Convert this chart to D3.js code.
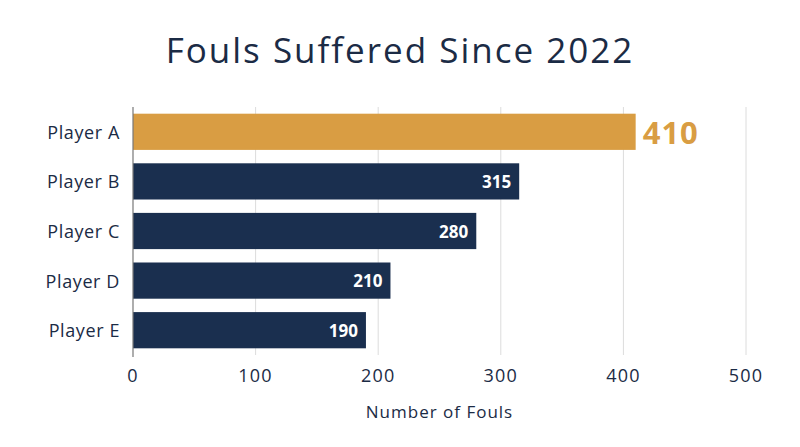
<!DOCTYPE html>
<html>
<head>
<meta charset="utf-8">
<script src="https://cdn.jsdelivr.net/npm/d3@7"></script>
<style>
  body { margin: 0; background: #fff; }
  svg { display: block; font-family: "Open Sans", "Lato", sans-serif; }
</style>
</head>
<body>
<svg id="chart" width="800" height="447"></svg>
<script>
const players = ["Player A", "Player B", "Player C", "Player D", "Player E"];
const fouls = [410, 315, 280, 210, 190];
const xTicks = [0, 100, 200, 300, 400, 500];
const highlight = "Player A";

const ink = "#1b2b45";
const navy = "#1a2f4f";
const gold = "#d99d43";

const svg = d3.select("#chart");
const data = players.map((p, i) => ({ player: p, value: fouls[i] }));

const x = d3.scaleLinear().domain([0, 500]).range([133, 746]);
const y = d3.scaleBand().domain(players).range([107, 355])
    .paddingInner(0.27).paddingOuter(0.135);

// title
svg.append("text")
    .attr("x", 400).attr("y", 63)
    .attr("text-anchor", "middle")
    .attr("font-size", 35)
    .attr("letter-spacing", 2)
    .attr("fill", ink)
    .text("Fouls Suffered Since 2022");

// gridlines
svg.append("g").selectAll("line")
    .data(xTicks.slice(1))
    .join("line")
    .attr("x1", d => x(d)).attr("x2", d => x(d))
    .attr("y1", 107).attr("y2", 355)
    .attr("stroke", "#dcdcdc")
    .attr("stroke-width", 1);

// bars
svg.append("g").selectAll("rect")
    .data(data)
    .join("rect")
    .attr("x", x(0))
    .attr("y", d => y(d.player))
    .attr("width", d => x(d.value) - x(0))
    .attr("height", y.bandwidth())
    .attr("fill", d => d.player === highlight ? gold : navy);

// y axis line
svg.append("line")
    .attr("x1", x(0)).attr("x2", x(0))
    .attr("y1", 107).attr("y2", 357)
    .attr("stroke", "#777").attr("stroke-width", 1.2);

// category labels
svg.append("g").selectAll("text")
    .data(data)
    .join("text")
    .attr("x", 120)
    .attr("y", d => y(d.player) + y.bandwidth() / 2)
    .attr("text-anchor", "end")
    .attr("dominant-baseline", "central")
    .attr("font-size", 18)
    .attr("letter-spacing", 0.6)
    .attr("fill", ink)
    .text(d => d.player);

// value labels
svg.append("g").selectAll("text")
    .data(data)
    .join("text")
    .attr("x", d => d.player === highlight ? x(d.value) + 7 : x(d.value) - 8)
    .attr("y", d => y(d.player) + y.bandwidth() / 2)
    .attr("text-anchor", d => d.player === highlight ? "start" : "end")
    .attr("dominant-baseline", "central")
    .attr("font-weight", 700)
    .attr("font-size", d => d.player === highlight ? 31 : 17)
    .attr("letter-spacing", d => d.player === highlight ? 1 : 0)
    .attr("fill", d => d.player === highlight ? gold : "#fff")
    .text(d => d.value);

// x tick labels
svg.append("g").selectAll("text")
    .data(xTicks)
    .join("text")
    .attr("x", d => x(d))
    .attr("y", 375)
    .attr("text-anchor", "middle")
    .attr("dominant-baseline", "central")
    .attr("font-size", 18)
    .attr("letter-spacing", 1.2)
    .attr("fill", ink)
    .text(d => d);

// axis title
svg.append("text")
    .attr("x", x(250)).attr("y", 411)
    .attr("text-anchor", "middle")
    .attr("dominant-baseline", "central")
    .attr("font-size", 17)
    .attr("letter-spacing", 1)
    .attr("fill", ink)
    .text("Number of Fouls");
</script>
</body>
</html>
